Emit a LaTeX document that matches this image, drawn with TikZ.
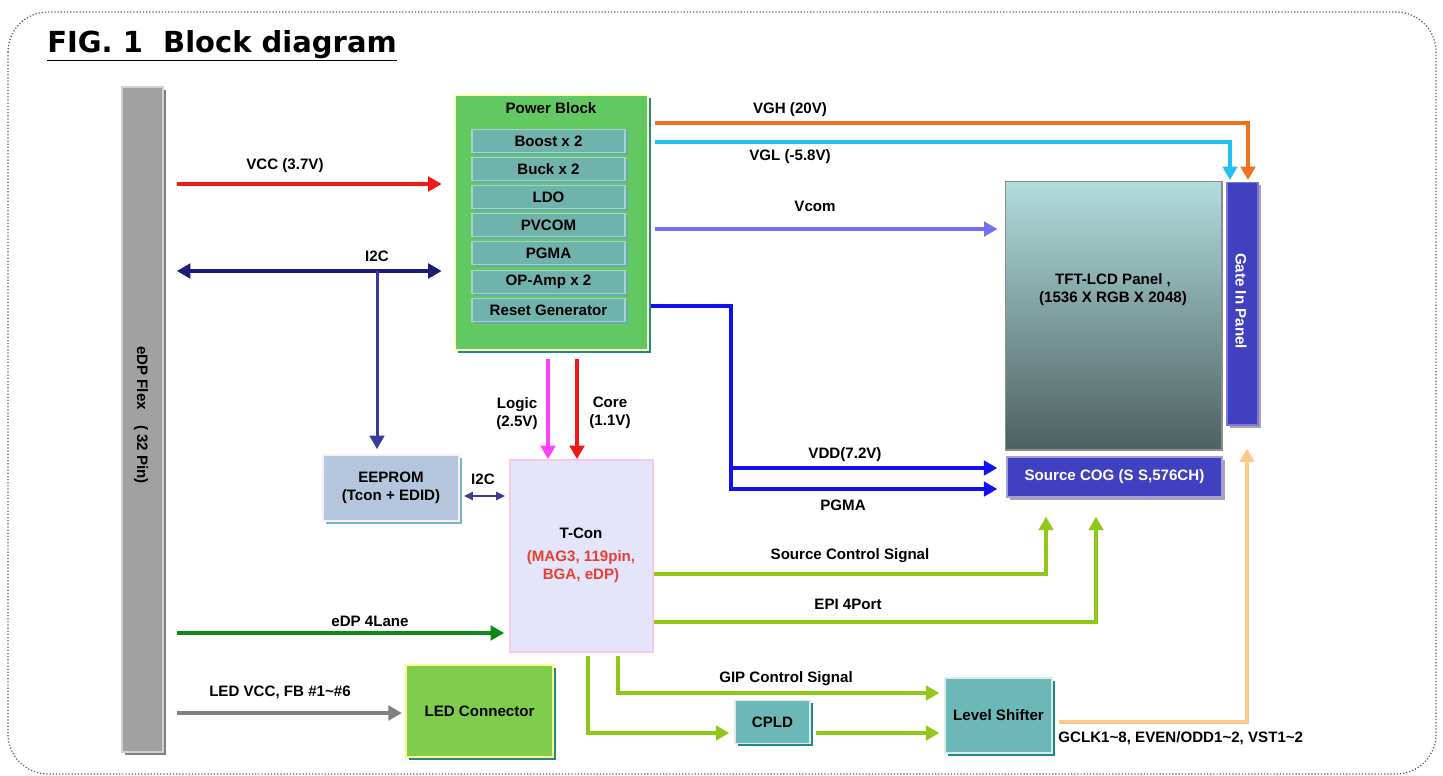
\documentclass[tikz,border=0pt]{standalone}
\usepackage{fontspec}
\setmainfont{Liberation Sans}
\newfontfamily\titlefont{DejaVu Sans}
\usetikzlibrary{arrows.meta,shadows}
\definecolor{cVCC}{HTML}{F01818}
\definecolor{cI2C}{HTML}{1C1C80}
\definecolor{cI2Cb}{HTML}{3A3A98}
\definecolor{cVGH}{HTML}{F07020}
\definecolor{cVGL}{HTML}{20C0F0}
\definecolor{cVcom}{HTML}{7070F0}
\definecolor{cBlue}{HTML}{1010F0}
\definecolor{cLogic}{HTML}{FF40FF}
\definecolor{cEDP}{HTML}{108818}
\definecolor{cLED}{HTML}{808080}
\definecolor{cSig}{HTML}{90C818}
\definecolor{cGCLK}{HTML}{FCC890}
\definecolor{cPB}{HTML}{62C862}
\definecolor{cSub}{HTML}{70B2AC}
\definecolor{cTeal}{HTML}{208888}
\definecolor{cGate}{HTML}{4040C0}
\definecolor{cEE}{HTML}{B4C6DE}
\definecolor{cTcon}{HTML}{E4E4FA}
\definecolor{cLEDc}{HTML}{80CC4C}
\definecolor{cCPLD}{HTML}{6CB8B8}
\definecolor{cRed}{HTML}{E84030}
\begin{document}
\begin{tikzpicture}[x=0.02cm,y=-0.02cm,
  font=\fontsize{8.6}{10.2}\selectfont\bfseries,
  blk/.style={inner sep=0, align=center},
  lbl/.style={inner sep=0, align=center},
  shad/.style={drop shadow={shadow xshift=1.6pt, shadow yshift=-1.6pt, fill=#1, opacity=1}},
  arr/.style={line width=0.085cm, -{Triangle[length=0.27cm,width=0.29cm]}},
  darr/.style={line width=0.085cm, {Triangle[length=0.27cm,width=0.29cm]}-{Triangle[length=0.27cm,width=0.29cm]}},
  sdarr/.style={line width=0.04cm, {Triangle[length=0.18cm,width=0.16cm]}-{Triangle[length=0.18cm,width=0.16cm]}},
  subbox/.style={blk, fill=cSub, draw=cSub!60!white, line width=0.6pt, shad=cTeal!70, minimum width=3.06cm, minimum height=0.46cm}
]
\useasboundingbox (0,0) rectangle (1443,775);
% outer dotted frame
\draw[gray!70!black, line width=0.7pt, dash pattern=on 0.7pt off 1.1pt, rounded corners=0.8cm] (8,12) rectangle (1436,774);
% title
\node[anchor=base west, inner sep=0, font=\titlefont\fontsize{16.5}{18}\selectfont\bfseries] (title) at (47,52) {\underline{FIG. 1\ \ Block diagram}};

% eDP flex bar
\node[blk, fill=black!37, draw=black!18, line width=1pt, shad=black!50, minimum width=0.82cm, minimum height=13.3cm] (flex) at (142.5,419.5) {};
\node[lbl, rotate=-90] (flexlbl) at (141,415) {eDP Flex\quad( 32 Pin)};

% power block
\node[blk, fill=cPB, draw=yellow!25, line width=1.5pt, shad=cTeal, minimum width=3.86cm, minimum height=5.1cm] (pb) at (551.5,222.5) {};
\node[lbl] (pbt) at (551,108) {Power Block};
\node[subbox] (s1) at (548.5,141) {Boost x 2};
\node[subbox] (s2) at (548.5,169) {Buck x 2};
\node[subbox] (s3) at (548.5,197) {LDO};
\node[subbox] (s4) at (548.5,225) {PVCOM};
\node[subbox] (s5) at (548.5,253) {PGMA};
\node[subbox] (s6) at (548.5,282) {OP-Amp x 2};
\node[subbox] (s7) at (548.5,310) {Reset Generator};

% panel
\node[blk, draw=black!45, line width=0.6pt, top color=cyan!8!teal!30!white, middle color=teal!25!gray!70, bottom color=black!60!teal!40!gray, minimum width=4.34cm, minimum height=5.38cm] (tft) at (1113.5,315.5) {};
\node[lbl] (tftl) at (1113,290) {TFT-LCD Panel ,\\(1536 X RGB X 2048)};
\node[blk, fill=cGate, draw=cGate!70!white, line width=0.6pt, shad=black!35, minimum width=0.62cm, minimum height=4.86cm] (gate) at (1242.5,303.5) {};
\node[lbl, rotate=-90, text=white] (gatel) at (1241,301) {Gate In Panel};
\node[blk, fill=cGate, draw=cGate!50!white, line width=0.8pt, shad=black!35, minimum width=4.3cm, minimum height=0.8cm, text=white] (cog) at (1114.5,477) {Source COG (S S,576CH)};

% EEPROM, T-Con
\node[blk, fill=cEE, draw=magenta!8, line width=1pt, shad=cTeal!60, minimum width=2.72cm, minimum height=1.32cm] (eeprom) at (391,488) {EEPROM\\(Tcon + EDID)};
\node[blk, fill=cTcon, draw=magenta!22, line width=1pt, minimum width=2.86cm, minimum height=3.84cm] (tcon) at (581.5,556) {};
\node[lbl] (tconl) at (581,555) {T-Con\\[3pt]\textcolor{cRed}{(MAG3, 119pin,}\\\textcolor{cRed}{BGA, eDP)}};

% bottom blocks
\node[blk, fill=cLEDc, draw=yellow!45, line width=1.2pt, shad=cTeal, minimum width=2.94cm, minimum height=1.84cm] (led) at (479.5,711) {LED Connector};
\node[blk, fill=cCPLD, draw=white!85!teal, line width=0.8pt, shad=cTeal, minimum width=1.5cm, minimum height=0.86cm] (cpld) at (772.5,722) {CPLD};
\node[blk, fill=cCPLD, draw=white!85!teal, line width=0.8pt, shad=cTeal, minimum width=2.14cm, minimum height=1.5cm] (ls) at (998.5,715.5) {Level Shifter};

% connectors
\draw[arr, cVCC, shorten <=0.26cm, shorten >=0.24cm] (flex.east |- 0,184) -- (pb.west |- 0,184);
\draw[darr, cI2C, shorten <=0.26cm, shorten >=0.24cm] (flex.east |- 0,271) -- (pb.west |- 0,271);
\coordinate (i2cj) at (377,271);
\draw[arr, cI2Cb, line width=0.06cm, shorten >=0.1cm] (i2cj) -- (i2cj |- eeprom.north);
\draw[arr, cVGH, shorten <=0.12cm, shorten >=0.03cm] (pb.east |- 0,123) -| ([xshift=0.11cm]gate.north);
\draw[arr, cVGL, shorten <=0.12cm, shorten >=0.03cm] (pb.east |- 0,142) -| ([xshift=-0.25cm]gate.north);
\draw[arr, cVcom, shorten <=0.12cm, shorten >=0.14cm] (pb.east |- 0,229) -- (tft.west |- 0,229);
\coordinate (bj) at (731,489);
\coordinate (bk) at (731,468);
\draw[arr, cBlue, shorten <=0.04cm, shorten >=0.18cm] (pb.east |- 0,306) -| (bj) -- (bj -| cog.west);
\draw[arr, cBlue, shorten >=0.18cm] (bk) -- (bk -| cog.west);
\draw[arr, cLogic, shorten <=0.16cm] (pb.south -| 548,0) -- (tcon.north -| 548,0);
\draw[arr, cVCC, shorten <=0.16cm] (pb.south -| 577,0) -- (tcon.north -| 577,0);
\draw[sdarr, cI2Cb, shorten <=0.08cm, shorten >=0.08cm] (eeprom.east |- 0,496) -- (tcon.west |- 0,496);
\draw[arr, cEDP, shorten <=0.26cm, shorten >=0.1cm] (flex.east |- 0,633) -- (tcon.west |- 0,633);
\draw[arr, cLED, shorten <=0.26cm, shorten >=0.06cm] (flex.east |- 0,713) -- (led.west |- 0,713);
\draw[arr, cSig, shorten >=0.38cm] (tcon.east |- 0,574) -| ([xshift=-1.37cm]cog.south);
\draw[arr, cSig, shorten >=0.38cm] (tcon.east |- 0,622) -| ([xshift=-0.37cm]cog.south);
\draw[arr, cSig, shorten <=0.06cm, shorten >=0.1cm] (tcon.south -| 618,0) |- (ls.west |- 0,693);
\draw[arr, cSig, shorten <=0.06cm, shorten >=0.1cm] (tcon.south -| 588,0) |- (cpld.west |- 0,733);
\draw[arr, cSig, shorten <=0.1cm, shorten >=0.1cm] (cpld.east |- 0,733) -- (ls.west |- 0,733);
\draw[arr, cGCLK, shorten <=0.12cm, shorten >=0.46cm] (ls.east |- 0,722) -| (gate.south -| 1247,0);

% labels
\node[lbl] at (285,166) {VCC (3.7V)};
\node[lbl] at (377,256) {I2C};
\node[lbl] at (790,110) {VGH (20V)};
\node[lbl] at (790,157) {VGL (-5.8V)};
\node[lbl] at (815,206) {Vcom};
\node[lbl] at (845,455) {VDD(7.2V)};
\node[lbl] at (843,505) {PGMA};
\node[lbl] at (517,414) {Logic\\(2.5V)};
\node[lbl] at (610,413) {Core\\(1.1V)};
\node[lbl] at (483,479) {I2C};
\node[lbl] at (370,621) {eDP 4Lane};
\node[lbl] at (280,692) {LED VCC, FB \#1\textasciitilde\#6};
\node[lbl] at (850,556) {Source Control Signal};
\node[lbl] at (848,604) {EPI 4Port};
\node[lbl] at (786,679) {GIP Control Signal};
\node[lbl, anchor=west] at (1058,738) {GCLK1\textasciitilde8, EVEN/ODD1\textasciitilde2, VST1\textasciitilde2};
\end{tikzpicture}
\end{document}
